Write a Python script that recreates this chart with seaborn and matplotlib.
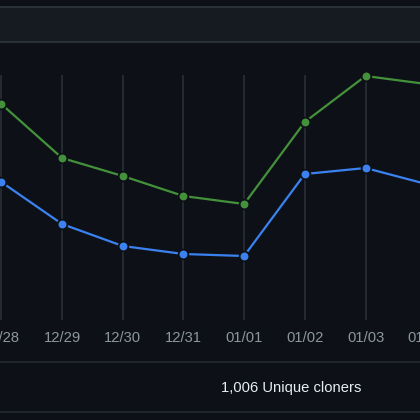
import matplotlib
matplotlib.use("Agg")
import matplotlib.pyplot as plt
from matplotlib.patches import Rectangle
from matplotlib.lines import Line2D
import seaborn as sns
import pandas as pd

dates = ["12/28", "12/29", "12/30", "12/31", "01/01", "01/02", "01/03", "01/04"]
clones = [108, 81, 72, 62, 58, 99, 122, 118]
unique_cloners = [69, 48, 37, 33, 32, 73, 76, 68]
legend_text = "1,006 Unique cloners"

BG = "#0d1117"
GREEN = "#43913a"
BLUE = "#3b82f0"
GRID = "#2d3239"
TICK = "#8d96a0"

df = pd.DataFrame({
    "x": list(range(len(dates))) * 2,
    "value": clones + unique_cloners,
    "series": ["Clones"] * len(dates) + ["Unique cloners"] * len(dates),
})

sns.set_theme(style="dark")
plt.rcParams["font.family"] = ["Liberation Sans", "DejaVu Sans"]

W = H = 420
fig = plt.figure(figsize=(4.2, 4.2), dpi=100, facecolor=BG)

def fy(py):
    return 1 - py / H

# header band
fig.add_artist(Rectangle((0, fy(41.5)), 1, (41.5 - 6.5) / H, transform=fig.transFigure,
                         facecolor="#161b22", edgecolor="none", zorder=0))
for py, c in [(6.5, "#30363d"), (41.5, "#30363d"), (361.5, "#252a31"), (412, "#252a31")]:
    fig.add_artist(Line2D([0, 1], [fy(py), fy(py)], transform=fig.transFigure,
                          color=c, lw=1.2, zorder=1))

x0 = 1.3      # pixel of first date
sp = 60.7     # pixel spacing between dates
xmin = -x0 / sp
xmax = len(dates) - 1 + 0.05
axw = (xmax - xmin) * sp

ax = fig.add_axes([0, fy(320), axw / W, (320 - 75) / H])
ax.set_facecolor(BG)

sns.lineplot(data=df, x="x", y="value", hue="series",
             palette={"Clones": GREEN, "Unique cloners": BLUE},
             marker="o", markersize=7, markeredgecolor=BG, markeredgewidth=1.3,
             linewidth=1.6, legend=False, ax=ax, clip_on=False, zorder=3)

ax.set_xticks(range(len(dates)))
ax.set_xticklabels(dates)
ax.set_xlim(xmin, xmax)
ax.set_ylim(0, 122.5)
ax.set_yticks([])
ax.set_xlabel("")
ax.set_ylabel("")
ax.grid(axis="x", color=GRID, linewidth=1.1, zorder=1)
ax.grid(axis="y", visible=False)
for s in ax.spines.values():
    s.set_visible(False)
ax.tick_params(axis="x", length=0, pad=8, labelsize=10.6, colors=TICK)

fig.text(291.5 / W, fy(388), legend_text, ha="center", va="center",
         color="#e6edf3", fontsize=10.6)

fig.savefig("out.png", dpi=100, facecolor=BG)
